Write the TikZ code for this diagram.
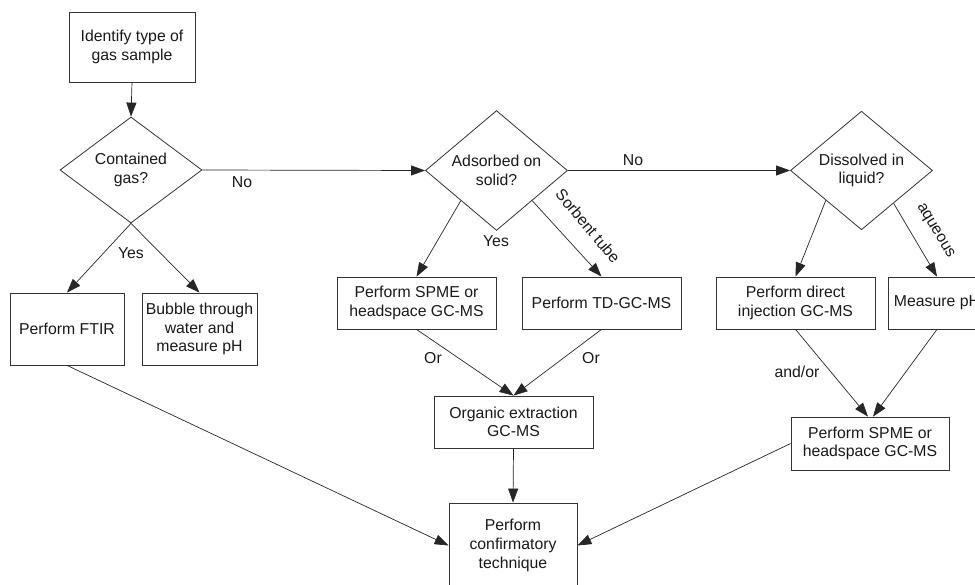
\documentclass[tikz,border=0pt]{standalone}
\usepackage{fontspec}
\setmainfont{Liberation Sans}
\usetikzlibrary{arrows.meta,shapes.geometric,calc}
\begin{document}
\begin{tikzpicture}[x=1pt,y=-1pt,
  txt/.style={font=\fontsize{15.8}{18.7}\selectfont, text=black!90},
  box/.style={txt, draw=black!80, line width=0.8pt, align=center, inner sep=0pt},
  dec/.style={txt, diamond, draw=black!80, line width=0.8pt, align=center, inner sep=0pt, minimum width=142pt, minimum height=106pt},
  arr/.style={draw=black!85, line width=0.7pt, -{Triangle[length=14pt,width=10pt]}},
  lbl/.style={txt, inner sep=0pt}
]
\useasboundingbox (0,0) rectangle (975,585);
\clip (0,0) rectangle (975,585);

% nodes
\node[box, minimum width=126pt, minimum height=70pt] (id) at (132,47) {Identify type of\\gas sample};
\node[dec] (d1) at (131,170) {Contained\\gas?};
\node[dec] (d2) at (496.5,170.5) {Adsorbed on\\solid?};
\node[dec] (d3) at (861.5,170.5) {Dissolved in\\liquid?};
\node[box, minimum width=114pt, minimum height=72pt] (ftir) at (67,329) {Perform FTIR};
\node[box, minimum width=115pt, minimum height=72pt] (bub) at (199.5,329) {Bubble through\\water and\\measure pH};
\node[box, minimum width=159pt, minimum height=52pt] (spme1) at (416.5,303) {Perform SPME or\\headspace GC-MS};
\node[box, minimum width=159pt, minimum height=52pt] (td) at (601.5,303) {Perform TD-GC-MS};
\node[box, minimum width=159pt, minimum height=52pt] (dir) at (795.5,303) {Perform direct\\injection GC-MS};
\node[box, minimum width=98pt, minimum height=52pt] (mph) at (937,303) {Measure pH};
\node[box, minimum width=159pt, minimum height=52pt] (org) at (513.5,422) {Organic extraction\\GC-MS};
\node[box, minimum width=158pt, minimum height=53pt] (spme2) at (870,443.5) {Perform SPME or\\headspace GC-MS};
\node[box, minimum width=128pt, minimum height=85pt] (conf) at (513,545.5) {Perform\\confirmatory\\technique};

% connectors
\draw[arr] (id.south) -- (d1.north);
\draw[arr] (d1.east) -- (d2.west);
\draw[arr] (d2.east) -- (d3.west);
\draw[arr] (d1.south) -- (ftir.north);
\draw[arr] (d1.south) -- (bub.north);
\draw[arr] ($(d2.south)!0.5!(d2.west)$) -- (spme1.north);
\draw[arr] ($(d2.south)!0.5!(d2.east)$) -- (td.north);
\draw[arr] ($(d3.south)!0.5!(d3.west)$) -- (dir.north);
\draw[arr] ($(d3.south)!0.45!(d3.east)$) -- (mph.north);
\draw[arr] (spme1.south) -- (org.north);
\draw[arr] (td.south) -- (org.north);
\draw[arr] (dir.south) -- ($(spme2.north)+(-2,0)$);
\draw[arr] (mph.south) -- ($(spme2.north)+(3,0)$);
\draw[arr] (org.south) -- (conf.north);
\draw[arr] (ftir.south) -- (conf.west);
\draw[arr] (spme2.west) -- (conf.east);

% labels
\node[lbl] (l1) at (242,182) {No};
\node[lbl] (l2) at (633,160) {No};
\node[lbl] (l3) at (131,253) {Yes};
\node[lbl] (l4) at (496,241) {Yes};
\node[lbl, rotate=-50] (l5) at (588,226) {Sorbent tube};
\node[lbl, rotate=-59] (l6) at (935,231) {aqueous};
\node[lbl] (l7) at (433,358) {Or};
\node[lbl] (l8) at (591,358) {Or};
\node[lbl] (l9) at (797,372) {and/or};
\end{tikzpicture}
\end{document}
